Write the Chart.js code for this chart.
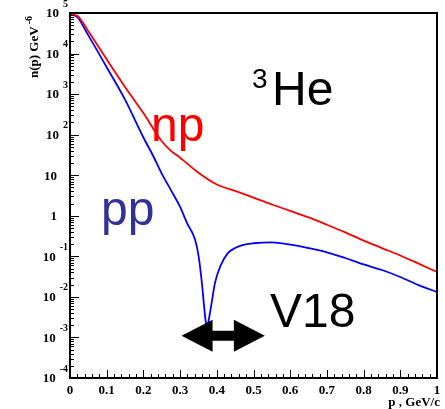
<!DOCTYPE html>
<html>
<head>
<meta charset="utf-8">
<script src="https://cdn.jsdelivr.net/npm/chart.js@4"></script>
<style>
  html, body { margin: 0; padding: 0; background: #fff; }
  canvas { display: block; }
</style>
</head>
<body>
<canvas id="chart" width="445" height="409"></canvas>
<script>
// momentum distributions in 3He, V18 potential
const npMomenta = [0, 0.02, 0.035, 0.05, 0.075, 0.1, 0.15, 0.2, 0.25, 0.275, 0.3, 0.35, 0.4, 0.45, 0.5, 0.55, 0.6, 0.65, 0.7, 0.75, 0.8, 0.85, 0.9, 0.95, 1.0];
const npDensity = [9.3e4, 8.5e4, 5.8e4, 3.55e4, 1.6e4, 7.2e3, 1.5e3, 340, 69, 40, 27, 11.5, 5.9, 4.1, 2.8, 1.9, 1.32, 0.91, 0.6, 0.39, 0.245, 0.16, 0.105, 0.066, 0.041];

const ppMomenta = [0, 0.02, 0.035, 0.05, 0.075, 0.1, 0.15, 0.2, 0.225, 0.25, 0.275, 0.3, 0.32, 0.34, 0.35, 0.36, 0.365, 0.37, 0.374, 0.378, 0.385, 0.395, 0.41, 0.43, 0.45, 0.47, 0.5, 0.55, 0.6, 0.65, 0.7, 0.75, 0.8, 0.85, 0.9, 0.95, 1.0];
const ppDensity = [9.3e4, 7.9e4, 4.9e4, 2.8e4, 1.15e4, 4.6e3, 730, 85, 32, 11, 4.3, 1.66, 0.63, 0.27, 0.107, 0.0195, 6.3e-3, 2.4e-3, 1.8e-3, 2.7e-3, 6.3e-3, 0.022, 0.058, 0.12, 0.16, 0.19, 0.21, 0.22, 0.195, 0.16, 0.126, 0.091, 0.063, 0.046, 0.031, 0.0195, 0.0132];

const xTickValues = [0, 0.1, 0.2, 0.3, 0.4, 0.5, 0.6, 0.7, 0.8, 0.9, 1];
const xTickLabels = ['0', '0.1', '0.2', '0.3', '0.4', '0.5', '0.6', '0.7', '0.8', '0.9', '1'];
const yDecades = [-4, -3, -2, -1, 0, 1, 2, 3, 4, 5];

// double arrow under the pp minimum
const arrowFrom = 0.304;
const arrowTo = 0.531;
const arrowLevel = 1.1e-3;

const serif = '"Liberation Serif", "Times New Roman", serif';
const sans = '"Liberation Sans", Arial, sans-serif';

function toPoints(xs, ys) {
    return xs.map((p, i) => ({ x: p, y: ys[i] }));
}

function line(ctx, x1, y1, x2, y2) {
    ctx.beginPath();
    ctx.moveTo(x1, y1);
    ctx.lineTo(x2, y2);
    ctx.stroke();
}

const decorations = {
    id: 'decorations',
    afterDatasetsDraw(chart) {
        const { ctx, chartArea: a, scales: { x, y } } = chart;
        ctx.save();

        // inward ticks
        ctx.strokeStyle = '#000';
        ctx.lineWidth = 1;
        yDecades.forEach(d => {
            for (let m = 1; m < 10; m++) {
                const v = m * Math.pow(10, d);
                if (v > 1e5) continue;
                const py = Math.round(y.getPixelForValue(v)) + 0.5;
                line(ctx, a.left, py, a.left + (m === 1 ? 9 : 4), py);
            }
        });
        for (let i = 0; i <= 50; i++) {
            const px = Math.round(x.getPixelForValue(i / 50)) + 0.5;
            line(ctx, px, a.bottom, px, a.bottom - (i % 5 === 0 ? 8 : 4));
        }

        // frame
        ctx.lineWidth = 2;
        ctx.strokeRect(a.left, a.top, a.right - a.left, a.bottom - a.top);

        // y tick labels
        ctx.fillStyle = '#000';
        ctx.textBaseline = 'middle';
        yDecades.forEach(d => {
            const py = y.getPixelForValue(Math.pow(10, d));
            ctx.textAlign = 'right';
            if (d === 0 || d === 1) {
                ctx.font = 'bold 13px ' + serif;
                ctx.fillText(d === 0 ? '1' : '10', 57, py + 1);
                return;
            }
            ctx.font = 'bold 10px ' + serif;
            const exp = String(d);
            ctx.fillText(exp, 68, py - 9);
            const expLeft = 68 - ctx.measureText(exp).width;
            ctx.font = 'bold 13px ' + serif;
            ctx.fillText('10', expLeft - 4, py + 1);
        });

        // x tick labels
        ctx.textAlign = 'center';
        ctx.font = 'bold 13px ' + serif;
        xTickValues.forEach((v, i) => {
            ctx.fillText(xTickLabels[i], x.getPixelForValue(v), a.bottom + 13);
        });

        // axis titles
        ctx.textAlign = 'right';
        ctx.textBaseline = 'alphabetic';
        ctx.fillText('p , GeV/c', 440, 406);

        ctx.save();
        ctx.translate(38, 78);
        ctx.rotate(-Math.PI / 2);
        ctx.textAlign = 'left';
        ctx.font = 'bold 13px ' + serif;
        ctx.fillText('n(p) GeV', 0, 0);
        const w = ctx.measureText('n(p) GeV').width;
        ctx.font = 'bold 10px ' + serif;
        ctx.fillText('-6', w + 2, -6);
        ctx.restore();

        // labels
        ctx.textAlign = 'left';
        ctx.font = '48px ' + sans;
        ctx.fillStyle = '#ff0000';
        ctx.fillText('np', 151, 141);
        ctx.fillStyle = '#31319c';
        ctx.fillText('pp', 101, 225);
        ctx.fillStyle = '#000';
        ctx.fillText('He', 272, 105);
        ctx.fillText('V18', 270, 327);
        ctx.font = '28px ' + sans;
        ctx.fillText('3', 252, 88);

        // double arrow
        const x1 = x.getPixelForValue(arrowFrom);
        const x2 = x.getPixelForValue(arrowTo);
        const ya = y.getPixelForValue(arrowLevel);
        const head = 31, half = 16, shaft = 5;
        ctx.beginPath();
        ctx.moveTo(x1, ya);
        ctx.lineTo(x1 + head, ya - half);
        ctx.lineTo(x1 + head, ya - shaft);
        ctx.lineTo(x2 - head, ya - shaft);
        ctx.lineTo(x2 - head, ya - half);
        ctx.lineTo(x2, ya);
        ctx.lineTo(x2 - head, ya + half);
        ctx.lineTo(x2 - head, ya + shaft);
        ctx.lineTo(x1 + head, ya + shaft);
        ctx.lineTo(x1 + head, ya + half);
        ctx.closePath();
        ctx.fill();

        ctx.restore();
    }
};

new Chart(document.getElementById('chart'), {
    type: 'line',
    data: {
        datasets: [
            {
                label: 'np',
                data: toPoints(npMomenta, npDensity),
                borderColor: '#ff0000',
                borderWidth: 1.8,
                pointRadius: 0,
                cubicInterpolationMode: 'monotone'
            },
            {
                label: 'pp',
                data: toPoints(ppMomenta, ppDensity),
                borderColor: '#0000ff',
                borderWidth: 1.8,
                pointRadius: 0,
                cubicInterpolationMode: 'monotone'
            }
        ]
    },
    options: {
        responsive: false,
        animation: false,
        layout: { padding: { left: 70, top: 13, right: 8, bottom: 31 } },
        plugins: { legend: { display: false }, tooltip: { enabled: false } },
        scales: {
            x: { type: 'linear', min: 0, max: 1, display: false },
            y: { type: 'logarithmic', min: 1e-4, max: 1e5, display: false }
        }
    },
    plugins: [decorations]
});
</script>
</body>
</html>
